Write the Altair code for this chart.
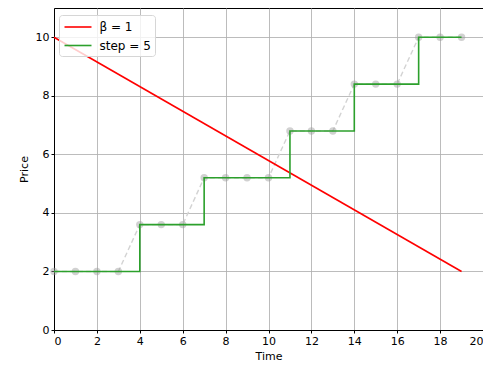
import altair as alt
import pandas as pd

time = list(range(20))
price = [2, 2, 2, 2, 3.6, 3.6, 3.6, 5.2, 5.2, 5.2, 5.2, 6.8, 6.8, 6.8, 8.4, 8.4, 8.4, 10, 10, 10]
beta_x = [0, 19]
beta_y = [10, 2]

series_names = ["β = 1", "step = 5"]
series_colors = ["#ff0000", "#2ca02c"]

pts = pd.DataFrame({"Time": time, "Price": price})
step_df = pd.DataFrame({"Time": time, "Price": price, "s": series_names[1]})
beta_df = pd.DataFrame({"Time": beta_x, "Price": beta_y, "s": series_names[0]})

xs = alt.Scale(domain=[0, 20], nice=False)
ys = alt.Scale(domain=[0, 11], nice=False)
xax = alt.Axis(values=list(range(0, 21, 2)), title="Time")
yax = alt.Axis(values=list(range(0, 11, 2)), title="Price")
col = alt.Color("s:N", scale=alt.Scale(domain=series_names, range=series_colors),
                legend=alt.Legend(title=None, orient="none", legendX=5, legendY=7,
                                  symbolType="M-2,0H2", symbolStrokeWidth=1.6, symbolSize=182,
                                  symbolFillColor="transparent",
                                  fillColor="rgba(255,255,255,0.8)", strokeColor="#d6d6d6",
                                  cornerRadius=3, padding=4, labelFontSize=12,
                                  labelFont="DejaVu Sans", labelColor="black",
                                  rowPadding=4.5, symbolOffset=7, labelOffset=13.5))

dashed = alt.Chart(pts).mark_line(color="#d3d3d3", strokeDash=[5, 3], strokeWidth=1.4).encode(
    x=alt.X("Time:Q", scale=xs, axis=xax), y=alt.Y("Price:Q", scale=ys, axis=yax))
dots = alt.Chart(pts).mark_circle(color="#999999", opacity=0.45, size=55).encode(
    x=alt.X("Time:Q", scale=xs), y=alt.Y("Price:Q", scale=ys))
red = alt.Chart(beta_df).mark_line(strokeWidth=1.6).encode(
    x=alt.X("Time:Q", scale=xs), y=alt.Y("Price:Q", scale=ys), color=col)
green = alt.Chart(step_df).mark_line(strokeWidth=1.6, interpolate="step-after").encode(
    x=alt.X("Time:Q", scale=xs), y=alt.Y("Price:Q", scale=ys), color=col)

chart = alt.layer(dashed, dots, red, green).properties(
    width=429, height=322,
    autosize=alt.AutoSizeParams(type="none"),
    padding={"left": 46, "top": 0, "right": 0, "bottom": 34},
).configure_view(stroke="black", strokeWidth=1).configure_axis(
    grid=True, gridColor="#b0b0b0", gridWidth=0.85, domainColor="black", domainWidth=1,
    tickColor="black", tickSize=3, labelFont="DejaVu Sans", labelFontSize=11,
    labelColor="black", titleFont="DejaVu Sans", titleFontSize=11, titleFontWeight="normal",
    titleColor="black", labelPadding=2
).configure_axisX(titlePadding=4).configure_axisY(titlePadding=6)

chart.save("out.html", embed_options={"renderer": "svg", "actions": False})
